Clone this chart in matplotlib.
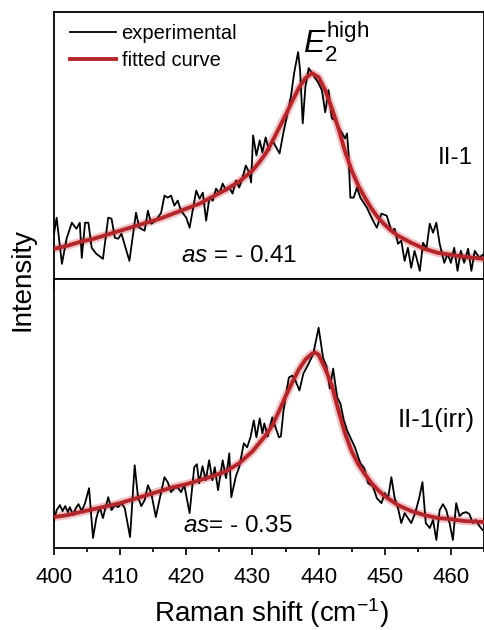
import matplotlib
matplotlib.use("Agg")
import matplotlib.pyplot as plt
from matplotlib.ticker import MultipleLocator, NullLocator

# ─────────────────────────────────────────────
# DATA (arbitrary intensity units)
# ─────────────────────────────────────────────
# II-1 : experimental spectrum
top_x = [400.0, 400.4, 401.2, 401.9, 402.7, 403.4, 403.9, 404.2, 404.7, 405.2,
         405.7, 406.4, 407.4, 408.2, 408.7, 409.2, 409.7, 410.2, 411.4, 412.4,
         412.9, 413.7, 414.2, 414.7, 415.4, 416.2, 416.7, 417.2, 417.7, 418.2,
         418.7, 419.2, 420.0, 420.5, 421.5, 422.0, 422.5, 423.0, 423.5, 424.0,
         424.5, 425.0, 425.5, 426.0, 426.5, 427.0, 427.5, 428.0, 428.5, 429.0,
         429.5, 429.8, 430.1, 430.6, 431.1, 431.5, 432.0, 432.5, 433.0, 433.6,
         434.1, 434.6, 435.3, 435.8, 436.3, 436.9, 437.2, 437.6, 438.0, 438.5,
         439.0, 439.5, 440.0, 440.5, 441.0, 441.5, 442.0, 442.5, 443.3, 444.0,
         444.3, 444.5, 444.8, 445.3, 445.8, 446.3, 447.3, 448.0, 448.8, 449.5,
         450.3, 451.0, 451.5, 452.0, 452.5, 453.0, 453.5, 454.0, 454.5, 454.8,
         455.3, 455.8, 456.3, 456.8, 457.3, 457.8, 458.3, 459.0, 459.5, 460.0,
         460.5, 461.0, 461.5, 462.0, 462.6, 463.1, 463.6, 464.3, 464.8]
top_y = [45, 61, 15, 40, 56, 50, 56, 21, 56, 56,
         31, 25, 20, 61, 60, 41, 40, 45, 18, 66,
         51, 48, 68, 55, 58, 66, 83, 81, 83, 73,
         78, 68, 61, 51, 88, 80, 86, 58, 81, 78,
         90, 85, 95, 88, 91, 85, 98, 91, 101, 113,
         106, 96, 143, 123, 138, 126, 141, 128, 138, 131,
         125, 143, 165, 181, 205, 226, 208, 155, 191, 210,
         205, 200, 195, 188, 166, 188, 160, 158, 148, 140,
         145, 128, 81, 81, 91, 81, 71, 61, 51, 65,
         63, 48, 50, 35, 38, 18, 31, 11, 28, 21,
         8, 36, 30, 55, 46, 56, 35, 16, 25, 16,
         31, 8, 28, 16, 30, 8, 28, 21, 24]

# II-1 : fitted curve
top_fit_x = [400, 402, 404, 406, 408, 410, 412, 414, 416, 418, 420, 422, 424,
             426, 428, 430, 431, 432, 433, 434, 435, 436, 437, 438, 439, 440,
             441, 442, 443, 444, 445, 446, 447, 448, 449, 450, 451, 452, 454,
             456, 458, 460, 462, 465]
top_fit_y = [30, 33, 37, 40, 44, 48, 52, 56, 60, 65, 70, 75, 82,
             89, 97, 108, 116, 125, 137, 150, 163, 177, 190, 200, 205, 201,
             188, 170, 150, 127, 108, 93, 81, 70, 61, 54, 48, 43, 36,
             30, 26, 24, 22, 20]

# II-1(irr) : experimental spectrum
bot_x = [400.0, 400.4, 400.9, 401.3, 401.7, 402.1, 402.4, 402.9, 403.3, 403.7,
         404.2, 404.7, 405.3, 405.9, 406.4, 406.9, 407.4, 408.2, 408.7, 409.2,
         409.7, 410.2, 410.7, 411.5, 412.2, 412.7, 413.2, 413.7, 414.2, 414.7,
         415.4, 416.0, 416.7, 417.2, 417.7, 418.2, 418.7, 419.2, 419.7, 420.5,
         421.2, 421.6, 421.95, 422.45, 422.95, 423.45, 423.95, 424.3, 424.8, 425.5,
         426.0, 426.5, 426.8, 427.5, 428.0, 428.7, 429.2, 429.7, 430.2, 430.6,
         431.1, 431.5, 431.8, 432.3, 433.0, 433.5, 434.0, 434.3, 434.7, 435.5,
         436.0, 436.5, 437.1, 437.7, 438.5, 439.2, 440.0, 440.7, 441.2, 441.7,
         442.2, 442.8, 443.3, 443.8, 444.3, 445.0, 445.5, 446.3, 446.9, 447.5,
         448.2, 448.8, 449.5, 450.0, 450.5, 451.0, 451.5, 452.0, 452.5, 453.0,
         453.5, 454.0, 454.6, 455.2, 455.7, 456.2, 456.8, 457.3, 457.8, 458.3,
         458.8, 459.3, 459.8, 460.3, 460.8, 461.3, 461.8, 462.3, 462.8, 463.3,
         463.8, 464.3, 464.8]
bot_y = [28, 38, 43, 37, 42, 36, 41, 33, 40, 44,
         37, 45, 60, 10, 30, 41, 30, 51, 38, 43,
         41, 45, 40, 11, 83, 51, 42, 48, 63, 55,
         31, 50, 71, 66, 56, 60, 61, 56, 63, 35,
         81, 84, 65, 82, 68, 88, 68, 81, 58, 88,
         70, 95, 51, 72, 81, 105, 101, 111, 128, 111,
         130, 115, 125, 112, 131, 121, 111, 112, 138, 171,
         173, 168, 158, 175, 185, 195, 221, 190, 182, 160,
         180, 151, 145, 128, 118, 108, 101, 85, 80, 65,
         62, 50, 45, 55, 50, 71, 50, 40, 25, 35,
         30, 25, 35, 50, 66, 25, 20, 28, 8, 38,
         44, 38, 25, 8, 45, 32, 35, 36, 34, 25,
         28, 22, 18]

# II-1(irr) : fitted curve
bot_fit_x = [400, 402, 404, 406, 408, 410, 412, 414, 416, 418, 420, 422, 424,
             426, 428, 430, 432, 433, 434, 435, 436, 437, 438, 439, 439.5, 440,
             441, 442, 443, 444, 445, 446, 447, 448, 449, 450, 452, 454, 456,
             458, 460, 462, 465]
bot_fit_y = [31, 33, 36, 39, 42, 45, 49, 53, 57, 61, 64, 68, 72,
             77, 85, 97, 113, 123, 137, 152, 166, 179, 189, 195, 196, 194,
             180, 163, 138, 115, 97, 84, 74, 65, 58, 52, 43, 37, 33,
             30, 29, 27, 26]

x_ticks = [400, 410, 420, 430, 440, 450, 460]

# ─────────────────────────────────────────────
# STYLE
# ─────────────────────────────────────────────
plt.rcParams["font.family"] = ["Liberation Sans", "DejaVu Sans"]
plt.rcParams["mathtext.fontset"] = "custom"
plt.rcParams["mathtext.rm"] = "Liberation Sans"
plt.rcParams["mathtext.it"] = "Liberation Sans:italic"

RED = "#b3262b"
GLOW = "#e8797c"

fig = plt.figure(figsize=(4.85, 6.3), dpi=100)
ax_top = fig.add_axes([0.1113, 0.5573, 0.8866, 0.4237])
ax_bot = fig.add_axes([0.1113, 0.1302, 0.8866, 0.4271])


def draw_panel(ax, x, y, fx, fy):
    ax.plot(fx, fy, color=GLOW, lw=6, alpha=0.45, solid_capstyle="butt", zorder=2)
    ax.plot(x, y, color="black", lw=1.3, zorder=3, label="experimental")
    ax.plot(fx, fy, color=RED, lw=2.8, zorder=4, label="fitted curve")
    ax.set_xlim(400, 465)
    ax.xaxis.set_major_locator(MultipleLocator(10))
    ax.xaxis.set_minor_locator(MultipleLocator(5))
    ax.yaxis.set_major_locator(NullLocator())
    for s in ax.spines.values():
        s.set_linewidth(1.3)


draw_panel(ax_top, top_x, top_y, top_fit_x, top_fit_y)
draw_panel(ax_bot, bot_x, bot_y, bot_fit_x, bot_fit_y)

ax_top.set_ylim(0, 266)
ax_bot.set_ylim(0, 270)

ax_top.tick_params(axis="x", which="major", direction="out", length=8, width=1.2, labelbottom=False)
ax_top.tick_params(axis="x", which="minor", direction="out", length=4, width=1.2)
ax_bot.tick_params(axis="x", which="major", direction="out", length=5, width=1.2,
                   labelsize=16, pad=9)
ax_bot.tick_params(axis="x", which="minor", direction="out", length=3, width=1.2)
ax_bot.set_xticks(x_ticks)

# legend
leg = ax_top.legend(loc="upper left", frameon=False, fontsize=14.5,
                    handlelength=2.25, handletextpad=0.3, labelspacing=0.4,
                    borderaxespad=0.0, bbox_to_anchor=(0.019, 0.985))

# annotations
ax_top.text(437.6, 236, r"$E_2^{\mathrm{high}}$", fontsize=23, ha="left", va="center")
ax_top.text(460.7, 120, "II-1", fontsize=17.5, ha="center", va="center")
ax_top.text(428.0, 23, r"$as$ = - 0.41", fontsize=17.5, ha="center", va="center")
ax_bot.text(457.7, 128, "II-1(irr)", fontsize=18.5, ha="center", va="center")
ax_bot.text(427.8, 22, r"$as$= - 0.35", fontsize=17.5, ha="center", va="center")

fig.text(0.046, 0.556, "Intensity", rotation=90, fontsize=20, ha="center", va="center")
fig.text(0.559, 0.027, r"Raman shift (cm$^{\mathregular{-1}}$)", fontsize=20,
         ha="center", va="center")

fig.savefig("out.png", dpi=100)
